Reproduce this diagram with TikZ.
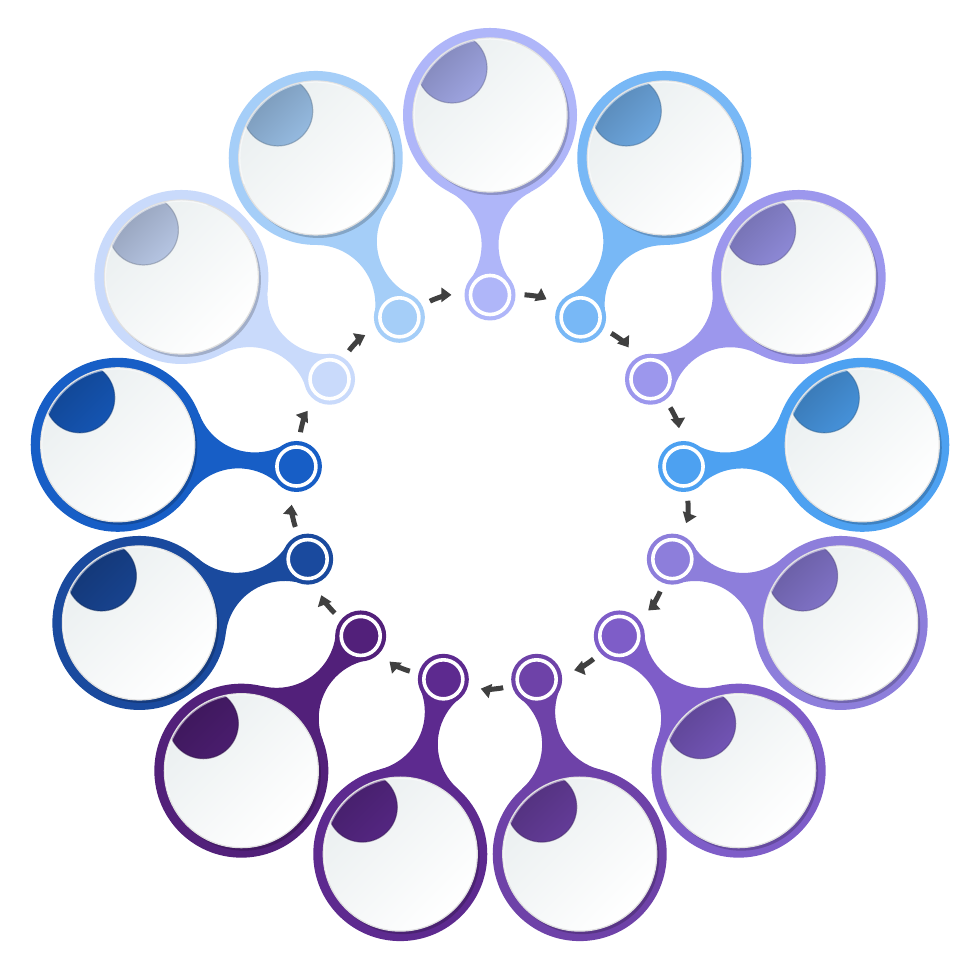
\documentclass[tikz,border=0pt]{standalone}
\usetikzlibrary{arrows.meta}
\definecolor{ringa}{HTML}{AFB6F9}
\definecolor{ringb}{HTML}{78B8F6}
\definecolor{ringc}{HTML}{9C97ED}
\definecolor{ringd}{HTML}{4DA1F1}
\definecolor{ringe}{HTML}{8D7EDB}
\definecolor{ringf}{HTML}{7E5DC8}
\definecolor{ringg}{HTML}{6E42A8}
\definecolor{ringh}{HTML}{5D2A8F}
\definecolor{ringi}{HTML}{52207A}
\definecolor{ringj}{HTML}{1A4A9E}
\definecolor{ringk}{HTML}{175EC6}
\definecolor{ringl}{HTML}{C9DAFB}
\definecolor{ringm}{HTML}{A5CEF8}
\definecolor{discgray}{HTML}{EAEFF0}
\definecolor{arrowgray}{HTML}{404040}
\begin{document}
\begin{tikzpicture}[x=0.01cm, y=0.01cm,
	hub/.style={circle, draw=white, line width=0.036cm, minimum size=0.39cm, inner sep=0pt, outer sep=0pt},
	flow/.style={draw=arrowgray, line width=0.05cm, -{Triangle[length=0.1cm, width=0.14cm]}, shorten <=0.15cm, shorten >=0.19cm}]
	\path[fill=white] (-490,-490) rectangle (490,490);
	\foreach \col [count=\k from 0] in {ringa,ringb,ringc,ringd,ringe,ringf,ringg,ringh,ringi,ringj,ringk,ringl,ringm} {
		\pgfmathsetmacro\a{90-\k*360/13}
		\begin{scope}[rotate=\a]
			\fill[\col] (297.9,40.3) arc[start angle=-27.6, end angle=-126.4, radius=59.4] -- (195,0) -- (209.9,-20.1) arc[start angle=126.4, end angle=27.6, radius=59.4] -- (375,0) -- cycle;
		\end{scope}
		\fill[\col] (\a:195) circle (25.5);
		\begin{scope}[shift={(\a:375)}]
			\fill[\col] (0,0) circle (87);
			\fill[\col!80!black] (2.5,-3) circle (77);
			\shade[top color=discgray, middle color=discgray!30!white, bottom color=white, shading angle=45] (0,0) circle (77);
			\begin{scope}
				\clip (0,0) circle (77);
				\shade[top color=\col!72!black, bottom color=\col!90!black, shading angle=45] (-38,47) circle (35);
				\draw[\col!60!black, opacity=0.5, line width=0.012cm] (-38,47) circle (35);
			\end{scope}
			\draw[black!12, line width=0.012cm] (0,0) circle (77);
			\draw[white, opacity=0.5, line width=0.015cm] (0,0) ++(200:76) arc[start angle=200, end angle=70, radius=76];
		\end{scope}
		\node[hub, fill=\col] (s\k) at (\a:195) {};
	}
	\foreach \k [evaluate=\k as \j using {int(mod(\k+1,13))}] in {0,...,12}
		\draw[flow] (s\k) to[bend left=14] (s\j);
\end{tikzpicture}
\end{document}
